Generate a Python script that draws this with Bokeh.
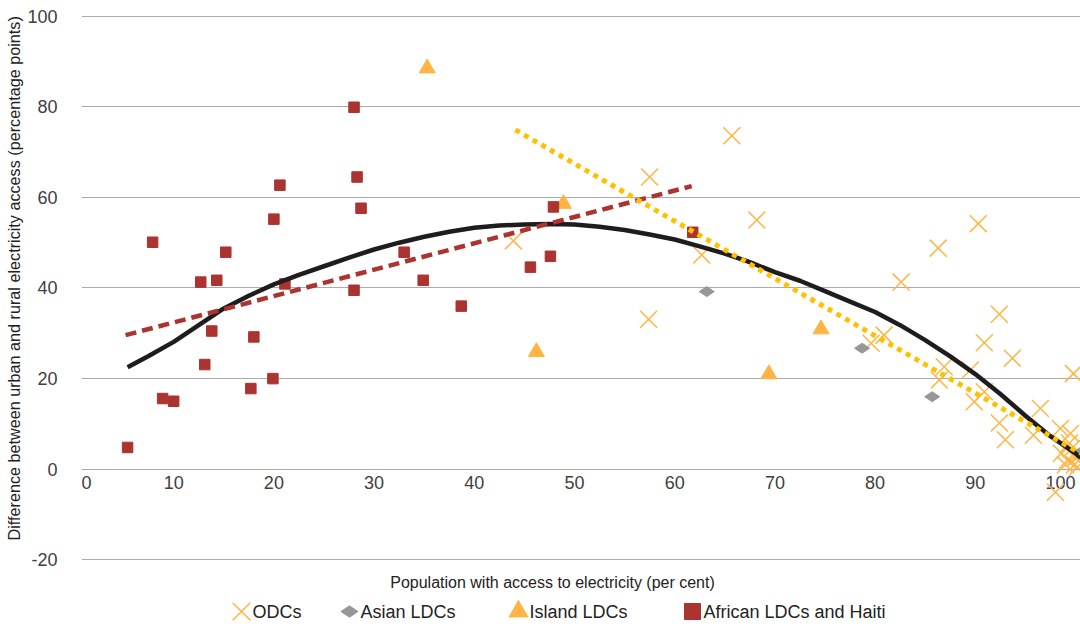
import math
from bokeh.plotting import figure
from bokeh.models import (ColumnDataSource, FixedTicker, Label, Range1d, Title)
from bokeh.core.properties import value
from bokeh.embed import file_html
from bokeh.resources import INLINE

# ---------------- data ----------------
odc_x = [43.9, 57.5, 65.7, 68.2, 62.7, 57.4, 90.3, 86.3, 82.6, 92.4, 90.9, 93.7, 99.8,
         79.6, 80.9, 86.9, 86.4, 89.5, 89.9, 90.9, 92.4, 93.0, 96.5, 95.8, 98.5, 99.5,
         98.0, 98.6, 99.2, 99.6, 99.9, 100.0, 100.2, 99.4, 100.3, 99.0]
odc_y = [50.4, 64.5, 73.6, 55.0, 47.3, 33.1, 54.2, 48.8, 41.3, 34.2, 27.9, 24.5, 21.1,
         27.8, 29.6, 22.6, 19.7, 21.9, 14.9, 17.1, 10.2, 6.5, 13.4, 7.5, 9.0, 7.9,
         -5.1, 3.5, 2.0, 4.5, 1.0, 2.5, 0.5, 5.8, 3.0, 1.0]

asian_x = [63.2, 78.7, 85.7, 100.4]
asian_y = [39.2, 26.7, 16.0, 3.6]

island_x = [35.3, 48.9, 46.2, 69.4, 74.6]
island_y = [88.5, 58.6, 25.9, 21.0, 30.9]

african_x = [5.4, 7.9, 8.9, 10.0, 12.7, 13.1, 13.8, 14.3, 15.2, 17.7, 18.0, 19.9, 20.0,
             20.6, 21.1, 28.0, 28.0, 28.3, 28.7, 33.0, 34.9, 38.7, 45.6, 47.6, 47.9, 61.8]
african_y = [4.8, 50.1, 15.6, 15.0, 41.3, 23.1, 30.5, 41.7, 47.9, 17.8, 29.2, 20.0, 55.2,
             62.7, 40.9, 79.9, 39.5, 64.5, 57.6, 47.9, 41.7, 36.0, 44.6, 47.0, 57.9, 52.3]

# trend lines
poly_x = [5.4, 7.5, 10, 12.5, 15, 17.5, 20, 22.5, 25, 27.5, 30, 32.5, 35, 37.5, 40, 42.5,
          45, 47.5, 50, 52.5, 55, 57.5, 60, 62.5, 65, 67.5, 70, 72.5, 75, 77.5, 80, 82.5,
          85, 87.5, 90, 92.5, 95, 97.5, 100, 100.5]
poly_y = [22.5, 25.0, 28.1, 31.8, 35.5, 38.3, 40.8, 42.9, 44.8, 46.7, 48.5, 50.0, 51.3,
          52.4, 53.3, 53.8, 54.0, 54.1, 54.0, 53.5, 52.8, 51.8, 50.7, 49.2, 47.6, 45.7,
          43.5, 41.6, 39.3, 37.0, 34.7, 31.8, 28.5, 24.9, 21.0, 16.6, 11.8, 7.3, 3.5, 2.5]
african_trend_x = [5.2, 61.7]
african_trend_y = [29.6, 62.5]
island_trend_x = [44.1, 100.5]
island_trend_y = [74.9, 3.5]

x_ticks = [0, 10, 20, 30, 40, 50, 60, 70, 80, 90, 100]
y_ticks = [-20, 0, 20, 40, 60, 80, 100]

series_names = ["ODCs", "Asian LDCs", "Island LDCs", "African LDCs and Haiti"]
x_title = "Population with access to electricity (per cent)"
y_title = "Difference between urban and rural electricity access (percentage points)"

# ---------------- styling / layout ----------------
ORANGE = "#FFB443"
GRAY = "#979797"
RED = "#AB3330"
GOLD = "#FFC000"
BLACK = "#1E1C1C"
TXT = "#404040"
FONT = "Liberation Sans"

W, H = 1080, 626
FRAME_L, FRAME_T = 81, 15
XMIN, XMAX = 0.8, 100.5
YMIN, YMAX = -34.72, 100.15   # frame runs to the page bottom; legend/x-title live inside it
KX = (W - FRAME_L) / (XMAX - XMIN)
KY = (H - FRAME_T) / (YMAX - YMIN)

# legend key centres (page pixels) -- layout only
LEG_PX = [241, 349, 518, 692]
LEG_PY = 611

p = figure(width=W, height=H, output_backend="svg", toolbar_location=None,
           x_range=Range1d(XMIN, XMAX), y_range=Range1d(YMIN, YMAX),
           x_axis_location=None, min_border_left=FRAME_L, min_border_right=0,
           min_border_top=FRAME_T, min_border_bottom=0)
p.outline_line_color = None
p.background_fill_color = "white"
p.border_fill_color = "white"

for g in p.grid:
    if g.dimension == 0:
        g.visible = False
    else:
        g.grid_line_color = "#ABABAB"
        g.grid_line_width = 1

p.yaxis.ticker = FixedTicker(ticks=y_ticks)
p.yaxis.major_label_overrides = {t: str(t) for t in y_ticks}
p.yaxis.axis_line_color = None
p.yaxis.major_tick_line_color = None
p.yaxis.minor_tick_line_color = None
p.yaxis.major_label_text_font = FONT
p.yaxis.major_label_text_font_size = "18px"
p.yaxis.major_label_text_color = TXT
p.yaxis.major_label_standoff = 18

# y title, bottom-anchored so it sits where the reference has it
p.add_layout(Title(text=y_title, align="left", offset=86, standoff=3,
                   text_font=FONT, text_font_size="16.2px", text_font_style="normal",
                   text_color="#222222"), "left")

# x tick labels drawn along y = 0 (Excel-style axis crossing)
lab_x = [min(max(t, XMIN), XMAX) for t in x_ticks]
lab_align = ["left" if t < XMIN else ("right" if t > XMAX - 1 else "center") for t in x_ticks]
lab_src = ColumnDataSource(dict(x=lab_x, y=[0] * len(x_ticks), text=[str(t) for t in x_ticks],
                                align=lab_align))
p.text(x="x", y="y", text="text", source=lab_src, text_align="align", text_baseline="middle",
       y_offset=13, text_font=value(FONT), text_font_size="18px", text_color=TXT)

# markers
p.scatter(odc_x, odc_y, marker="x", size=24, line_color=ORANGE, line_width=1.5)
p.scatter(asian_x, asian_y, marker="diamond", size=15, angle=math.pi / 2,
          fill_color=GRAY, line_color=GRAY)
p.scatter(island_x, island_y, marker="triangle", size=16, fill_color=ORANGE, line_color=ORANGE)
p.scatter(african_x, african_y, marker="square", size=10.5, fill_color=RED, line_color=RED)

# trend lines
p.line(poly_x, poly_y, line_color=BLACK, line_width=4.5)
p.line(african_trend_x, african_trend_y, line_color=RED, line_width=4.5, line_dash="11 6")
p.line(island_trend_x, island_trend_y, line_color=GOLD, line_width=5, line_dash="5 5")

# x title
p.add_layout(Label(x=471, y=44, x_units="screen", y_units="screen", text=x_title,
                   text_align="center", text_baseline="middle", text_font=FONT,
                   text_font_size="16px", text_color="#222222"))

# legend (keys + labels) at the bottom of the page
lx = [XMIN + (px - FRAME_L) / KX for px in LEG_PX]
ly = YMIN + (H - LEG_PY) / KY
p.scatter([lx[0]], [ly], marker="x", size=25, line_color=ORANGE, line_width=1.5)
p.scatter([lx[1]], [ly], marker="diamond", size=17, angle=math.pi / 2,
          fill_color=GRAY, line_color=GRAY)
p.scatter([lx[2]], [ly], marker="triangle", size=19, fill_color=ORANGE, line_color=ORANGE)
p.scatter([lx[3]], [ly], marker="square", size=16, fill_color=RED, line_color=RED)
leg_src = ColumnDataSource(dict(x=lx, y=[ly] * 4, text=series_names))
p.text(x="x", y="y", text="text", source=leg_src, x_offset=11, text_align="left",
       text_baseline="middle", text_font=value(FONT), text_font_size="18px",
       text_color="#222222")

open("out.html", "w").write(file_html(p, INLINE))
